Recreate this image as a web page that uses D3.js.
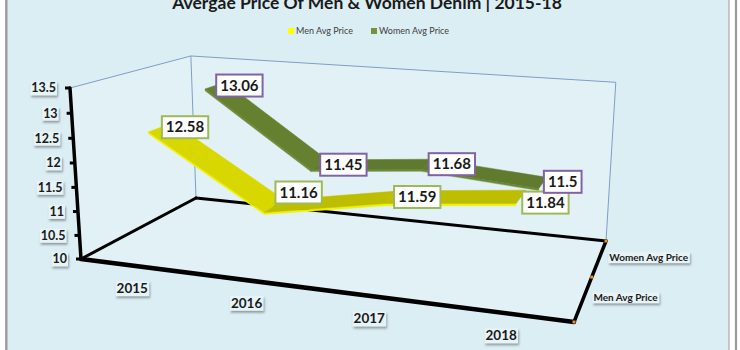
<!DOCTYPE html>
<html><head><meta charset="utf-8">
<script src="https://cdn.jsdelivr.net/npm/d3@7/dist/d3.min.js"></script>
<style>html,body{margin:0;padding:0;background:#fff;}svg{display:block;}</style>
</head><body>
<svg id="chart" width="740" height="350"></svg>
<script>
// ---------------- data ----------------
const chartTitle = "Avergae Price Of Men & Women Denim | 2015-18";
const categories = ["2015", "2016", "2017", "2018"];
const seriesNames = ["Men Avg Price", "Women Avg Price"];
const menValues = [12.58, 11.16, 11.59, 11.84];
const womenValues = [13.06, 11.45, 11.68, 11.5];
const valueTicks = [10, 10.5, 11, 11.5, 12, 12.5, 13, 13.5];

// ---------------- layout / style ----------------
const W = 740, H = 350;
const FONT = "Lato, 'Open Sans', sans-serif";
const seriesStyle = [
  {flat: "#bebe00", steep: "#d8d800", edge: "#f2f200", border: "#9bbb59", legend: "#ffff00"},
  {flat: "#5f7a2e", steep: "#65802f", edge: "#6f8a38", border: "#8064a2", legend: "#76923c"}
];
// label placement nudges (pixels, vertical) used by the chart's label layout to avoid collisions
const labelNudgeY = [[0, -13.5, 0, 6], [0, 0, 0, -1]];
// screen positions of the visible corners of the 3D plot box
const corner = {
  FLB: [81, 259], FRB: [574, 322], BLB: [196, 198], BRB: [606, 241],
  FLT: [70, 88], BRT: [616, 79]
};

// --------- perspective projection (floor homography + vertical vanishing point) ---------
function solve(A, b) {
  const n = b.length, M = A.map((r, i) => r.concat([b[i]]));
  for (let c = 0; c < n; c++) {
    let p = c;
    for (let r = c + 1; r < n; r++) if (Math.abs(M[r][c]) > Math.abs(M[p][c])) p = r;
    [M[c], M[p]] = [M[p], M[c]];
    for (let r = 0; r < n; r++) {
      if (r === c) continue;
      const f = M[r][c] / M[c][c];
      for (let k = c; k <= n; k++) M[r][k] -= f * M[c][k];
    }
  }
  return M.map((r, i) => r[n] / r[i]);
}
const floorPairs = [[[0, 0], corner.FLB], [[1, 0], corner.FRB], [[0, 1], corner.BLB], [[1, 1], corner.BRB]];
const A = [], bb = [];
floorPairs.forEach(([[u, v], [x, y]]) => {
  A.push([u, v, 1, 0, 0, 0, -u * x, -v * x]); bb.push(x);
  A.push([0, 0, 0, u, v, 1, -u * y, -v * y]); bb.push(y);
});
const h = solve(A, bb);
function intersect(p1, p2, p3, p4) {
  const d = (p1[0] - p2[0]) * (p3[1] - p4[1]) - (p1[1] - p2[1]) * (p3[0] - p4[0]);
  const a = p1[0] * p2[1] - p1[1] * p2[0], c = p3[0] * p4[1] - p3[1] * p4[0];
  return [(a * (p3[0] - p4[0]) - (p1[0] - p2[0]) * c) / d, (a * (p3[1] - p4[1]) - (p1[1] - p2[1]) * c) / d];
}
const V = intersect(corner.FLB, corner.FLT, corner.BRB, corner.BRT);
const dv = [V[0] - corner.FLB[0], V[1] - corner.FLB[1]];
const tt = ((corner.FLT[0] - corner.FLB[0]) * dv[0] + (corner.FLT[1] - corner.FLB[1]) * dv[1]) / (dv[0] * dv[0] + dv[1] * dv[1]);
const lam = tt / (1 - tt);
function P(u, v, w) {
  const hx = h[0] * u + h[1] * v + h[2] + lam * w * V[0];
  const hy = h[3] * u + h[4] * v + h[5] + lam * w * V[1];
  const hz = h[6] * u + h[7] * v + 1 + lam * w;
  return [hx / hz, hy / hz];
}

// ---------------- scales ----------------
const xBand = d3.scaleBand().domain(categories).range([0, 1]);
const xC = c => xBand(c) + xBand.bandwidth() / 2;
const zBand = d3.scaleBand().domain(seriesNames).range([0, 1]);
const zC = s => zBand(s) + zBand.bandwidth() / 2;
const ribbonHalf = 0.1;
const yScale = d3.scaleLinear().domain([d3.min(valueTicks), d3.max(valueTicks)]).range([0, 1]);

const series = [
  {name: seriesNames[0], values: menValues, style: seriesStyle[0], nudge: labelNudgeY[0]},
  {name: seriesNames[1], values: womenValues, style: seriesStyle[1], nudge: labelNudgeY[1]}
];

const svg = d3.select("#chart");
const defs = svg.append("defs");
const f = defs.append("filter").attr("id", "sh").attr("x", "-20%").attr("y", "-20%").attr("width", "150%").attr("height", "170%");
f.append("feDropShadow").attr("dx", 1).attr("dy", 2).attr("stdDeviation", 0.8).attr("flood-color", "#555").attr("flood-opacity", 0.55);

// background & frame
svg.append("rect").attr("width", W).attr("height", H).attr("fill", "#ffffff");
svg.append("rect").attr("x", 7).attr("y", -2).attr("width", 722).attr("height", H + 4)
  .attr("fill", "#dbeef4").attr("stroke", "#a9a9a9").attr("stroke-width", 1.2);
svg.append("line").attr("x1", 736).attr("x2", 736).attr("y1", 0).attr("y2", H).attr("stroke", "#9a9a9a").attr("stroke-width", 2.2);
svg.append("line").attr("x1", 6).attr("x2", 6).attr("y1", 0).attr("y2", H).attr("stroke", "#8c8c8c").attr("stroke-width", 1.5);

const line = d3.line();
const poly = pts => line(pts) + "Z";

// walls
const walls = [
  [[0, 1, 0], [1, 1, 0], [1, 1, 1], [0, 1, 1]],
  [[0, 0, 0], [0, 1, 0], [0, 1, 1], [0, 0, 1]],
  [[0, 0, 0], [1, 0, 0], [1, 1, 0], [0, 1, 0]]
];
svg.append("g").selectAll("path").data(walls).join("path")
  .attr("d", d => poly(d.map(p => P(...p)))).attr("fill", "#ffffff").attr("fill-opacity", 0.18);

// thin wall edges
const thin = [[[0, 0, 1], [0, 1, 1]], [[0, 1, 1], [1, 1, 1]], [[1, 1, 1], [1, 1, 0]], [[0, 1, 1], [0, 1, 0]]];
svg.append("g").selectAll("path").data(thin).join("path")
  .attr("d", d => line(d.map(p => P(...p)))).attr("fill", "none").attr("stroke", "#7f9ec6").attr("stroke-width", 1);

// floor edges (thick black)
const thick = [
  {pts: [[0, 0, 0], [0, 1, 0]], w: 3},
  {pts: [[0, 1, 0], [1, 1, 0]], w: 3},
  {pts: [[0, 0, 0], [1, 0, 0]], w: 4.5},
  {pts: [[1, 0, 0], [1, 1, 0]], w: 3.5},
  {pts: [[0, 0, 0], [0, 0, 1]], w: 3.5}
];
svg.append("g").selectAll("path").data(thick).join("path")
  .attr("d", d => line(d.pts.map(p => P(...p)))).attr("fill", "none").attr("stroke", "#000").attr("stroke-width", d => d.w)
  .attr("stroke-linecap", "round");

// value-axis ticks & labels
const gy = svg.append("g");
valueTicks.forEach(t => {
  const p = P(0, 0, yScale(t));
  gy.append("line").attr("x1", p[0]).attr("x2", p[0] - 5).attr("y1", p[1]).attr("y2", p[1])
    .attr("stroke", "#000").attr("stroke-width", 3);
});
function shadowLabel(g, x, y, text, size, anchor) {
  const gg = g.append("g");
  const tx = gg.append("text").attr("x", x).attr("y", y).attr("dy", "0.35em").attr("text-anchor", anchor)
    .attr("font-family", FONT).attr("font-weight", "bold").attr("font-size", size).attr("fill", "#1a1a1a").text(text);
  const b = tx.node().getBBox();
  gg.insert("rect", "text").attr("x", b.x - 1).attr("y", b.y + 1).attr("width", b.width + 2).attr("height", b.height - 1)
    .attr("fill", "#e6f3f7").attr("filter", "url(#sh)");
}
valueTicks.forEach(t => {
  const p = P(0, 0, yScale(t));
  shadowLabel(gy, p[0] - 14, p[1], String(t), 12.5, "end");
});

// category labels
const gx = svg.append("g");
categories.forEach(c => {
  const p = P(xC(c), 0, 0);
  shadowLabel(gx, p[0] - 3, p[1] + 22.5, c, 13.5, "middle");
});

// series-axis ticks & labels
const gz = svg.append("g");
[0, 0.5, 1].forEach(v => {
  const p = P(1, v, 0);
  gz.append("rect").attr("x", p[0] - 1.5).attr("y", p[1] - 1.5).attr("width", 3).attr("height", 3).attr("fill", "#f28e2b");
});
seriesNames.forEach(s => {
  const p = P(1, zC(s), 0);
  shadowLabel(gz, p[0] + 10, p[1] - 0.5, s, 10, "start");
});

// ribbons (back series first)
const gr = svg.append("g");
[...series].reverse().forEach(s => {
  const z = zC(s.name), v0 = z - ribbonHalf, v1 = z + ribbonHalf;
  for (let i = 0; i < categories.length - 1; i++) {
    const ua = xC(categories[i]), ub = xC(categories[i + 1]);
    const wa = yScale(s.values[i]), wb = yScale(s.values[i + 1]);
    const k = Math.max(0, Math.min(1, -(s.values[i + 1] - s.values[i]) / 1.4));
    const col = d3.interpolateRgb(s.style.flat, s.style.steep)(k);
    const th = 0.012;
    gr.append("path").attr("d", poly([P(ua, v0, wa), P(ub, v0, wb), P(ub, v0, wb - th), P(ua, v0, wa - th)]))
      .attr("fill", s.style.edge).attr("stroke", s.style.edge).attr("stroke-width", 0.4);
    gr.append("path").attr("d", poly([P(ua, v0, wa), P(ub, v0, wb), P(ub, v1, wb), P(ua, v1, wa)]))
      .attr("fill", col).attr("stroke", col).attr("stroke-width", 0.5).attr("stroke-linejoin", "round");
  }
});

// data labels
const gl = svg.append("g");
series.forEach(s => {
  s.values.forEach((val, i) => {
    const p = P(xC(categories[i]), zC(s.name), yScale(val));
    const g = gl.append("g");
    const tx = g.append("text").attr("x", 0).attr("y", 0).attr("dy", "0.35em").attr("text-anchor", "middle")
      .attr("font-family", FONT).attr("font-weight", "bold").attr("font-size", 15).attr("fill", "#1a1a1a").text(String(val));
    const tw = tx.node().getComputedTextLength();
    const bw = tw + 8, bh = 22;
    g.insert("rect", "text").attr("x", -bw / 2).attr("y", -bh / 2).attr("width", bw).attr("height", bh)
      .attr("fill", "#fff").attr("stroke", s.style.border).attr("stroke-width", 2);
    g.attr("transform", `translate(${p[0] + bw / 2 + 1},${p[1] + s.nudge[i]})`);
  });
});

// title
svg.append("text").attr("x", 367).attr("y", 9).attr("text-anchor", "middle")
  .attr("font-family", FONT).attr("font-weight", "bold").attr("font-size", 17.5).attr("fill", "#1a1a1a").text(chartTitle);

// legend
const lg = svg.append("g");
let lx = 288;
series.forEach((s, i) => {
  lg.append("rect").attr("x", lx).attr("y", 28).attr("width", 6).attr("height", 6).attr("fill", s.style.legend);
  const t = lg.append("text").attr("x", lx + 8).attr("y", 31).attr("dy", "0.35em")
    .attr("font-family", FONT).attr("font-size", 9).attr("fill", "#404040").text(s.name);
  lx += 8 + t.node().getComputedTextLength() + 18;
});
</script>
</body></html>
